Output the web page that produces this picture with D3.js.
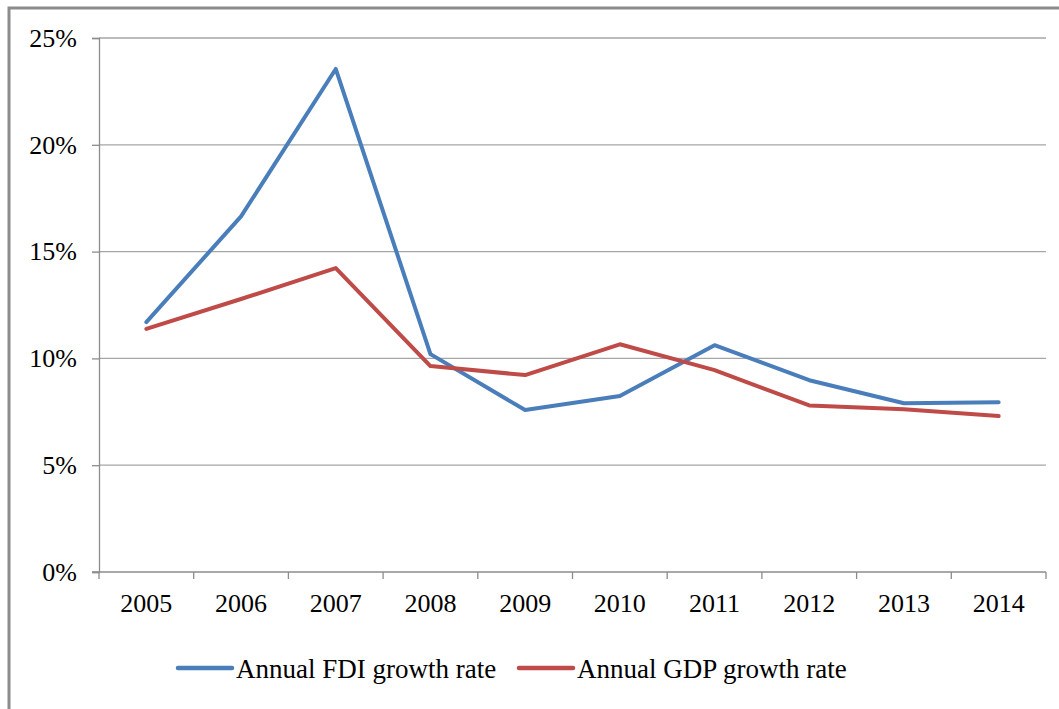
<!DOCTYPE html>
<html>
<head>
<meta charset="utf-8">
<script src="https://cdn.jsdelivr.net/npm/d3@7/dist/d3.min.js"></script>
<style>
  html, body { margin: 0; padding: 0; background: #fff; }
  svg { display: block; }
  text { font-family: "Liberation Serif", "Times New Roman", serif; fill: #000; }
</style>
</head>
<body>
<svg id="chart" width="1059" height="709"></svg>
<script>
// Years on the category axis
const years = ["2005", "2006", "2007", "2008", "2009", "2010", "2011", "2012", "2013", "2014"];
// Annual growth rates (fractions)
const fdiGrowth = [0.117, 0.1665, 0.2355, 0.102, 0.0758, 0.0824, 0.1062, 0.0898, 0.0790, 0.0795];
const gdpGrowth = [0.1138, 0.1278, 0.1423, 0.0964, 0.0922, 0.1066, 0.0945, 0.0780, 0.0762, 0.0730];
// Value-axis ticks
const yTicks = [0, 0.05, 0.10, 0.15, 0.20, 0.25];
const seriesNames = ["Annual FDI growth rate", "Annual GDP growth rate"];
const seriesColors = ["#4a7ebb", "#be4b48"];

const svg = d3.select("#chart");

// Outer frame
svg.append("rect")
  .attr("x", 9).attr("y", 8)
  .attr("width", 1070).attr("height", 720)
  .attr("fill", "none").attr("stroke", "#8c8c8c").attr("stroke-width", 3);

const plot = { left: 99, right: 1046, top: 38, bottom: 572 };

const x = d3.scaleBand().domain(years).range([plot.left, plot.right]).paddingInner(0).paddingOuter(0);
const y = d3.scaleLinear().domain([0, 0.25]).range([plot.bottom, plot.top]);

// Horizontal gridlines
svg.append("g")
  .selectAll("line")
  .data(yTicks.filter(d => d > 0))
  .join("line")
  .attr("x1", plot.left).attr("x2", plot.right)
  .attr("y1", d => y(d)).attr("y2", d => y(d))
  .attr("stroke", "#a6a6a6").attr("stroke-width", 1.3);

// Value axis
const yAxis = d3.axisLeft(y).tickValues(yTicks).tickFormat(d3.format(".0%")).tickSize(7).tickPadding(15);
const gy = svg.append("g").attr("transform", `translate(${plot.left},0)`).call(yAxis);
gy.select(".domain").attr("stroke", "#8c8c8c").attr("stroke-width", 1.3);
gy.selectAll(".tick line").attr("stroke", "#8c8c8c").attr("stroke-width", 1.3);
gy.selectAll(".tick text").attr("font-size", 26).attr("font-family", "Liberation Serif").attr("fill", "#000");

// Category axis: labels centered in bands, tick marks at band edges
const gx = svg.append("g").attr("transform", `translate(0,${plot.bottom})`);
gx.append("line")
  .attr("x1", plot.left - 7).attr("x2", plot.right)
  .attr("stroke", "#8c8c8c").attr("stroke-width", 1.3);
const edges = years.map(d => x(d)).concat([x(years[years.length - 1]) + x.bandwidth()]);
gx.selectAll("line.tick")
  .data(edges)
  .join("line").attr("class", "tick")
  .attr("x1", d => d).attr("x2", d => d)
  .attr("y1", 0).attr("y2", 7)
  .attr("stroke", "#8c8c8c").attr("stroke-width", 1.3);
gx.selectAll("text")
  .data(years)
  .join("text")
  .attr("x", d => x(d) + x.bandwidth() / 2)
  .attr("y", 40)
  .attr("text-anchor", "middle")
  .attr("font-size", 26)
  .text(d => d);

// Series lines
const line = d3.line()
  .x((d, i) => x(years[i]) + x.bandwidth() / 2)
  .y(d => y(d));

[fdiGrowth, gdpGrowth].forEach((vals, k) => {
  svg.append("path")
    .datum(vals)
    .attr("d", line)
    .attr("fill", "none")
    .attr("stroke", seriesColors[k])
    .attr("stroke-width", 4)
    .attr("stroke-linejoin", "round")
    .attr("stroke-linecap", "round");
});

// Legend
const legendItems = [
  { x: 178, name: seriesNames[0], color: seriesColors[0] },
  { x: 519, name: seriesNames[1], color: seriesColors[1] }
];
const lg = svg.append("g").attr("transform", "translate(0,668)");
legendItems.forEach(it => {
  lg.append("line")
    .attr("x1", it.x).attr("x2", it.x + 54)
    .attr("stroke", it.color).attr("stroke-width", 4.5).attr("stroke-linecap", "round");
  lg.append("text")
    .attr("x", it.x + 58).attr("y", 10)
    .attr("font-size", 27)
    .text(it.name);
});
</script>
</body>
</html>
